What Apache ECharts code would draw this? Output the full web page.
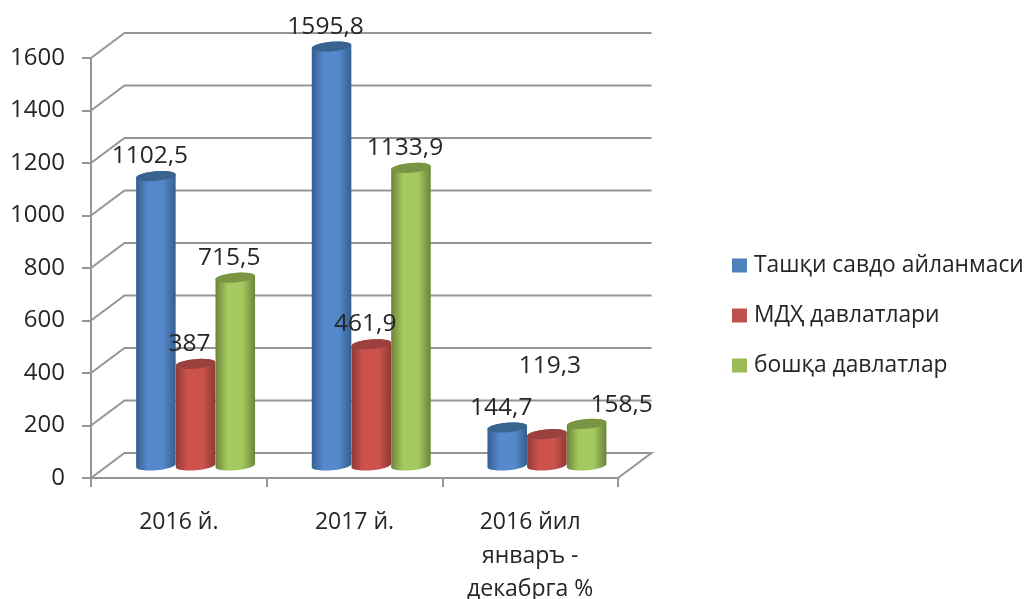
<!DOCTYPE html>
<html>
<head>
<meta charset="utf-8">
<style>
  html, body { margin: 0; padding: 0; background: #fff; }
  #chart { width: 1027px; height: 599px; }
</style>
<script src="https://cdn.jsdelivr.net/npm/echarts@6/dist/echarts.min.js"></script>
</head>
<body>
<div id="chart"></div>
<script>
const categories = ['2016 й.', '2017 й.', '2016 йил\nянваръ -\nдекабрга %'];
const seriesNames = ['Ташқи савдо айланмаси', 'МДҲ давлатлари', 'бошқа давлатлар'];
const tradeTotal = [1102.5, 1595.8, 144.7];
const cisStates = [387, 461.9, 119.3];
const otherStates = [715.5, 1133.9, 158.5];
const yTicks = [0, 200, 400, 600, 800, 1000, 1200, 1400, 1600];

const FONT = '"Open Sans", sans-serif';
const TEXT = '#262626';
const LINE = '#959595';
// depth of the fake 3d box, the bars stand half way in
const DEPTH_X = 33.5;
const DEPTH_Y = 25;
const BAR_W = 39.7;
const RADIUS_Y = 4.8;
const TILT = -5 * Math.PI / 180;

const palette = [
  { edge: '#34608f', mid: '#5589cb', cap: '#38648f', flat: '#4f81bd' },
  { edge: '#8f3a37', mid: '#cd524e', cap: '#9a403d', flat: '#c0504d' },
  { edge: '#6b8439', mid: '#a4c95f', cap: '#7a9644', flat: '#9bbb59' }
];

// labels sit up and left of the bar, except two that were moved by hand in the original
function labelShift(seriesIdx, catIdx) {
  if (seriesIdx === 1 && catIdx === 2) return [3, -68];
  if (seriesIdx === 2 && catIdx === 2) return [35, -19];
  return [-6, -20];
}

function rim(cx, cy, t) {
  const a = BAR_W / 2;
  return [
    cx + a * Math.cos(t) * Math.cos(TILT) - RADIUS_Y * Math.sin(t) * Math.sin(TILT),
    cy + a * Math.cos(t) * Math.sin(TILT) + RADIUS_Y * Math.sin(t) * Math.cos(TILT)
  ];
}

function arc(cx, cy, from, to) {
  const pts = [];
  for (let i = 0; i <= 24; i++) {
    pts.push(rim(cx, cy, from + (to - from) * i / 24));
  }
  return pts;
}

function barCenter(api, catIdx, seriesIdx, value) {
  const p = api.coord([catIdx, value]);
  return [p[0] + DEPTH_X / 2 + (seriesIdx - 1) * BAR_W, p[1] - DEPTH_Y / 2];
}

function renderWall(params, api) {
  const box = params.coordSys;
  const v = api.value(1);
  const y = api.coord([0, v])[1];
  const right = box.x + box.width;
  const lineStyle = { stroke: LINE, lineWidth: 2, fill: null };
  const pts = [[box.x, y], [box.x + DEPTH_X, y - DEPTH_Y], [right + DEPTH_X, y - DEPTH_Y]];
  if (v === 0) pts.push([right, y]);
  return { type: 'polyline', shape: { points: pts }, style: lineStyle, silent: true };
}

function renderBar(seriesIdx) {
  return function (params, api) {
    const catIdx = api.value(0);
    const top = barCenter(api, catIdx, seriesIdx, api.value(1));
    const base = barCenter(api, catIdx, seriesIdx, 0);
    const c = palette[seriesIdx];
    const body = arc(base[0], base[1], 0, Math.PI).concat(arc(top[0], top[1], Math.PI, 2 * Math.PI));
    return {
      type: 'group',
      children: [
        {
          type: 'polygon',
          shape: { points: body },
          style: {
            fill: new echarts.graphic.LinearGradient(0, 0, 1, 0, [
              { offset: 0, color: c.edge },
              { offset: 0.3, color: c.mid },
              { offset: 0.68, color: c.mid },
              { offset: 1, color: c.edge }
            ])
          }
        },
        {
          type: 'polygon',
          shape: { points: arc(top[0], top[1], 0, 2 * Math.PI) },
          style: { fill: c.cap }
        }
      ]
    };
  };
}

function renderLabel(seriesIdx) {
  return function (params, api) {
    const catIdx = api.value(0);
    const value = api.value(1);
    const top = barCenter(api, catIdx, seriesIdx, value);
    const shift = labelShift(seriesIdx, catIdx);
    return {
      type: 'text',
      x: top[0] + shift[0],
      y: top[1] + shift[1],
      style: {
        text: String(value).replace('.', ','),
        font: '24.5px ' + FONT,
        fill: TEXT,
        align: 'center',
        verticalAlign: 'middle'
      }
    };
  };
}

const valueLists = [tradeTotal, cisStates, otherStates];
const toPairs = (list) => list.map((v, i) => [i, v]);

const series = [{
  type: 'custom',
  name: 'wall',
  z: 1,
  silent: true,
  clip: false,
  renderItem: renderWall,
  data: yTicks.map((v) => [0, v])
}];
valueLists.forEach((list, s) => {
  series.push({
    type: 'custom',
    name: seriesNames[s],
    z: 3 + s,
    clip: false,
    itemStyle: { color: palette[s].flat },
    renderItem: renderBar(s),
    data: toPairs(list)
  });
});
valueLists.forEach((list, s) => {
  series.push({
    type: 'custom',
    name: 'label' + s,
    z: 10,
    silent: true,
    clip: false,
    renderItem: renderLabel(s),
    data: toPairs(list)
  });
});

let myChart = echarts.init(document.getElementById('chart'));
myChart.setOption({
  animation: false,
  backgroundColor: '#fff',
  grid: { left: 91, top: 58, width: 527, height: 420, outerBoundsMode: 'none' },
  legend: {
    data: seriesNames,
    orient: 'vertical',
    left: 732,
    top: 251,
    padding: 0,
    icon: 'rect',
    itemWidth: 15,
    itemHeight: 14,
    itemGap: 21,
    selectedMode: false,
    textStyle: { fontFamily: FONT, fontSize: 22.8, color: TEXT, lineHeight: 29, padding: [0, 0, 0, 2] }
  },
  xAxis: {
    type: 'category',
    data: categories,
    axisLine: { lineStyle: { color: LINE, width: 2 } },
    axisTick: { show: true, length: 9, lineStyle: { color: LINE, width: 2 } },
    axisLabel: {
      interval: 0,
      margin: 28,
      fontFamily: FONT,
      fontSize: 23,
      lineHeight: 33.5,
      color: TEXT
    }
  },
  yAxis: {
    type: 'value',
    min: 0,
    max: 1600,
    interval: 200,
    axisLine: { show: true, lineStyle: { color: LINE, width: 2 } },
    axisTick: { show: true, length: 9, lineStyle: { color: LINE, width: 2 } },
    axisLabel: {
      margin: 26,
      fontFamily: FONT,
      fontSize: 24,
      color: TEXT,
      padding: [4, 0, 0, 0],
      formatter: (v) => String(v)
    },
    splitLine: { show: false }
  },
  series: series
});
window.addEventListener('resize', () => {
  if (myChart) {
    myChart.resize();
  }
});
</script>
</body>
</html>
